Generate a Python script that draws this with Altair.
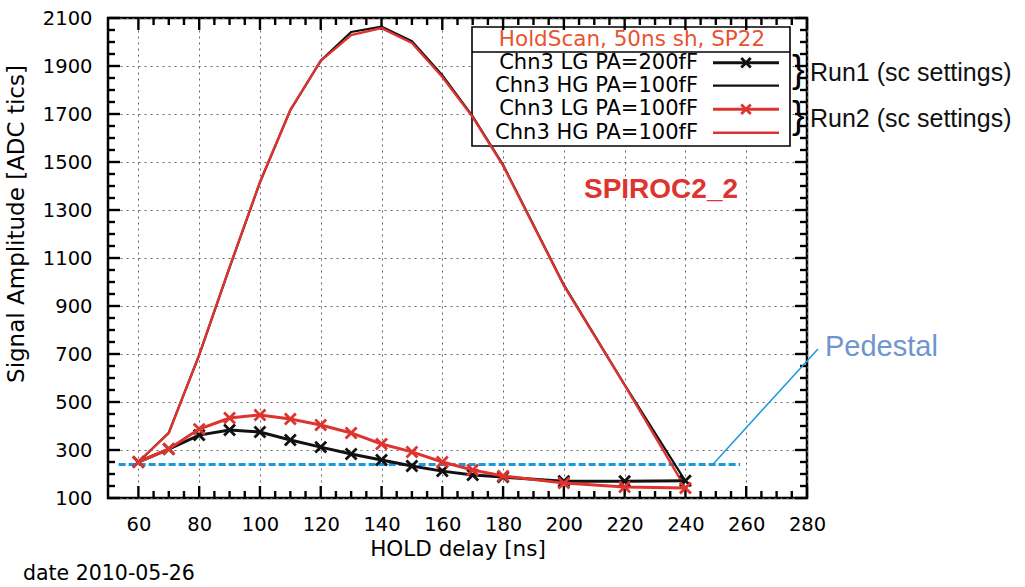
import altair as alt
import pandas as pd

# ---------------- data ----------------
hold_ns = [60, 70, 80, 90, 100, 110, 120, 130, 140, 150, 160, 170, 180, 200, 220, 240]
run1_lg = [250, 304, 362, 383, 375, 342, 312, 283, 258, 233, 212, 196, 187, 170, 170, 172]
run1_hg = [250, 372, 695, 1060, 1415, 1716, 1922, 2042, 2064, 2004, 1862, 1690, 1488, 988, 572, 170]
run2_lg = [250, 304, 387, 433, 446, 429, 404, 371, 325, 292, 250, 217, 192, 162, 146, 142]
run2_hg = [250, 371, 696, 1062, 1417, 1717, 1921, 2029, 2058, 1996, 1854, 1687, 1485, 985, 570, 142]

series_names = ["Chn3 LG PA=200fF", "Chn3 HG PA=100fF", "Chn3 LG PA=100fF", "Chn3 HG PA=100fF "]
series_values = [run1_lg, run1_hg, run2_lg, run2_hg]
series_colors = ["#111111", "#111111", "#dd3430", "#dd3430"]
series_marker = [True, False, True, False]
series_width = [3.0, 2.2, 3.0, 2.4]

x_ticks = list(range(60, 281, 20))
y_ticks = list(range(100, 2101, 200))
x_minor = [v for v in range(60, 281, 5) if (v - 60) % 20]
y_minor = [v for v in range(100, 2101, 50) if (v - 100) % 200]

pedestal_level = [240]
pedestal_span = [53.5, 258]
pedestal_pointer = {"x": [249], "y": [240], "x2": [283.6], "y2": [721]}

legend_title = "HoldScan, 50ns sh, SP22"
run_labels = ["} Run1 (sc settings)", "} Run2 (sc settings)"]

# ---------------- layout ----------------
W, H = 699, 480
RED = "#dd3430"
FONT = "DejaVu Sans"
XMARK = "M-1,-1L1,1M-1,1L1,-1"

xs = alt.Scale(domain=[50, 280], nice=False, zero=False)
ys = alt.Scale(domain=[100, 2100], nice=False, zero=False)
grid_common = dict(grid=True, gridDash=[2, 4], gridColor="#666666", gridWidth=1,
                   ticks=False, domain=False, labelFont=FONT, labelFontSize=19.5,
                   labelColor="black", title=None, labelOverlap=False, labelFlush=False,
                   format="d")
x_axis = alt.Axis(values=x_ticks, labelPadding=17, **grid_common)
y_axis = alt.Axis(values=y_ticks, labelPadding=16, **grid_common)

rows = []
for name, vals in zip(series_names, series_values):
    for xv, yv in zip(hold_ns, vals):
        rows.append({"x": xv, "y": yv, "series": name})
df = pd.DataFrame(rows)

X = alt.X("x:Q", scale=xs, axis=x_axis)
Y = alt.Y("y:Q", scale=ys, axis=y_axis)

layers = []

# legend box (white, drawn over the grid, under the curves)
box = alt.Chart(pd.DataFrame({"a": [0]})).mark_rect(
    fill="white", stroke="black", strokeWidth=1.6
).encode(x=alt.value(364), x2=alt.value(682), y=alt.value(9), y2=alt.value(128))
sep = alt.Chart(pd.DataFrame({"a": [0]})).mark_rule(color="black", strokeWidth=1.6).encode(
    x=alt.value(364), x2=alt.value(682), y=alt.value(34))
layers += [box, sep]

# inward ticks on all four sides
def xticks(vals, length):
    d = pd.DataFrame({"x": vals})
    b = alt.Chart(d).mark_rule(color="black", strokeWidth=2.4).encode(
        x=X, y=alt.value(H), y2=alt.value(H - length))
    t = alt.Chart(d).mark_rule(color="black", strokeWidth=2.4).encode(
        x=X, y=alt.value(0), y2=alt.value(length))
    return [b, t]

def yticks(vals, length):
    d = pd.DataFrame({"y": vals})
    l = alt.Chart(d).mark_rule(color="black", strokeWidth=2.4).encode(
        y=Y, x=alt.value(0), x2=alt.value(length))
    r = alt.Chart(d).mark_rule(color="black", strokeWidth=2.4).encode(
        y=Y, x=alt.value(W), x2=alt.value(W - length))
    return [l, r]

layers += xticks(x_ticks, 12) + xticks(x_minor, 7) + yticks(y_ticks, 12) + yticks(y_minor, 7)

# pedestal
ped = alt.Chart(pd.DataFrame({"x": [pedestal_span[0]], "x2": [pedestal_span[1]], "y": pedestal_level})).mark_rule(
    color="#1a98dd", strokeWidth=3, strokeDash=[7, 3]
).encode(x=X, x2="x2:Q", y=Y)
pointer = alt.Chart(pd.DataFrame(pedestal_pointer)).mark_rule(
    color="#1a98dd", strokeWidth=1.5
).encode(x=X, y=Y, x2="x2:Q", y2="y2:Q")
layers += [ped, pointer]

# curves
draw_order = [1, 3, 0, 2]
for i in draw_order:
    d = df[df["series"] == series_names[i]]
    line = alt.Chart(d).mark_line(color=series_colors[i], strokeWidth=series_width[i]).encode(x=X, y=Y)
    layers.append(line)
    if series_marker[i]:
        pts = alt.Chart(d).mark_point(shape=XMARK, filled=False, size=120,
                                      color=series_colors[i], strokeWidth=2.8, opacity=1).encode(x=X, y=Y)
        layers.append(pts)

# legend content
row_y = [44.7, 67.7, 91.3, 114.7]
for i, name in enumerate(series_names):
    t = alt.Chart(pd.DataFrame({"t": [name.strip()]})).mark_text(
        font=FONT, fontSize=21, align="right", baseline="middle", color="black"
    ).encode(x=alt.value(590), y=alt.value(row_y[i]), text="t:N")
    ln = alt.Chart(pd.DataFrame({"a": [0]})).mark_rule(
        color=series_colors[i], strokeWidth=series_width[i]).encode(
        x=alt.value(605), x2=alt.value(671), y=alt.value(row_y[i]))
    layers += [t, ln]
    if series_marker[i]:
        mk = alt.Chart(pd.DataFrame({"a": [0]})).mark_point(
            shape=XMARK, filled=False, size=90, color=series_colors[i], strokeWidth=2.8, opacity=1
        ).encode(x=alt.value(638), y=alt.value(row_y[i]))
        layers.append(mk)

title_t = alt.Chart(pd.DataFrame({"t": [legend_title]})).mark_text(
    font=FONT, fontSize=21.5, align="center", baseline="middle", color="#e8532f"
).encode(x=alt.value(524), y=alt.value(22), text="t:N")
layers.append(title_t)

# run brackets
run_y = [54, 100]
for lab, yy in zip(run_labels, run_y):
    brace, rest = lab.split(" ", 1)
    b = alt.Chart(pd.DataFrame({"t": [brace]})).mark_text(
        font="Liberation Sans", fontSize=38, align="left", baseline="middle", color="black"
    ).encode(x=alt.value(684), y=alt.value(yy - 1), text="t:N")
    r = alt.Chart(pd.DataFrame({"t": [rest]})).mark_text(
        font="Liberation Sans", fontSize=25, align="left", baseline="middle", color="#111111"
    ).encode(x=alt.value(702), y=alt.value(yy + 1), text="t:N")
    layers += [b, r]

# other annotations
def label(text, x, y, size, color, font=FONT, weight="normal", align="left", angle=0):
    return alt.Chart(pd.DataFrame({"t": [text]})).mark_text(
        font=font, fontSize=size, fontWeight=weight, align=align, baseline="middle",
        color=color, angle=angle
    ).encode(x=alt.value(x), y=alt.value(y), text="t:N")

layers += [
    label("SPIROC2_2", 553, 172, 28, RED, font="Liberation Sans", weight="bold", align="center"),
    label("Pedestal", 717, 329, 29, "#6f95cf", font="Liberation Sans"),
    label("Signal Amplitude [ADC tics]", -91, 206, 23, "black", align="center", angle=270),
    label("HOLD delay [ns]", 350, 532, 21.5, "black", align="center"),
    label("date 2010-05-26", -85, 556, 20.5, "black"),
]

chart = alt.layer(*layers).properties(
    width=W, height=H,
    autosize=alt.AutoSizeParams(type="none"),
    padding={"left": 108, "top": 18, "right": 1025 - 108 - W, "bottom": 587 - 18 - H},
    background="white",
).configure_view(stroke="black", strokeWidth=2.5)

chart.save("out.html", embed_options={"renderer": "svg", "actions": False})
